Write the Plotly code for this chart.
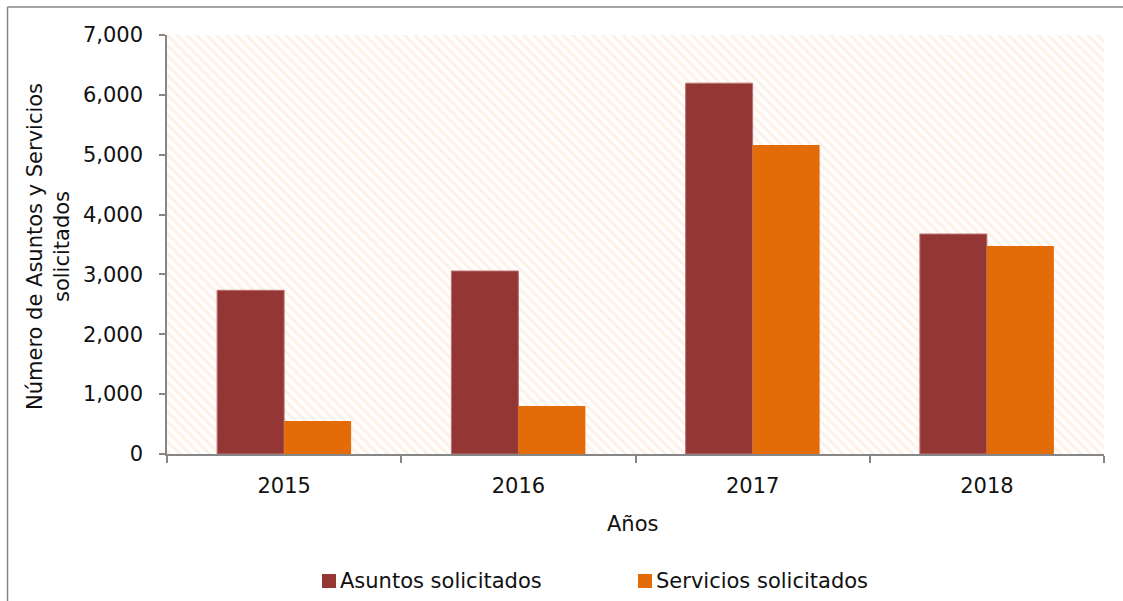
import plotly.graph_objects as go

years = ["2015", "2016", "2017", "2018"]
asuntos = [2735, 3057, 6195, 3675]
servicios = [550, 800, 5162, 3475]
series_names = ["Asuntos solicitados", "Servicios solicitados"]
series_colors = ["#943634", "#E36C09"]
y_max = 7000

W, H = 1123, 601
L, R, T, B = 167, 1104, 35, 454
pw, ph = R - L, B - T

def px_x(px):
    return (px - L) / pw

def px_y(py):
    return (B - py) / ph

pos = list(range(len(years)))
bw = 0.286

fig = go.Figure()
# hatched plot-area background
fig.add_trace(go.Bar(
    x=[-0.5], y=[y_max], width=[len(years)], offset=0,
    marker=dict(color="white", line=dict(width=0),
                pattern=dict(shape="\\", fgcolor="#FDE4CF", bgcolor="white",
                             size=7, solidity=0.45)),
    hoverinfo="skip", showlegend=False))
fig.add_trace(go.Bar(
    x=pos, y=asuntos, width=bw, offset=-bw, name=series_names[0],
    marker=dict(color=series_colors[0], line=dict(color="#B9716F", width=1)),
    showlegend=False))
fig.add_trace(go.Bar(
    x=pos, y=servicios, width=bw, offset=0, name=series_names[1],
    marker=dict(color=series_colors[1], line=dict(width=0)),
    showlegend=False))

font = dict(family="DejaVu Sans", size=21, color="#111111")

# custom legend (square + label)
legend_x = [322, 638]
legend_y = 581
shapes = []
annotations = []
for name, color, lx in zip(series_names, series_colors, legend_x):
    shapes.append(dict(type="rect", xref="paper", yref="paper",
                       x0=px_x(lx), x1=px_x(lx + 14),
                       y0=px_y(legend_y - 7), y1=px_y(legend_y + 7),
                       fillcolor=color, line=dict(width=0)))
    annotations.append(dict(text=name, x=px_x(lx + 16), y=px_y(legend_y),
                            xref="paper", yref="paper", showarrow=False,
                            font=font, xanchor="left", yanchor="middle"))

shapes += [
    dict(type="line", xref="paper", yref="paper",
         x0=px_x(7.5), x1=px_x(1130), y0=px_y(7), y1=px_y(7),
         line=dict(color="#868686", width=1.5)),
    dict(type="line", xref="paper", yref="paper",
         x0=px_x(7.5), x1=px_x(7.5), y0=px_y(7), y1=px_y(610),
         line=dict(color="#868686", width=1.5)),
]
annotations += [
    dict(text="Años", x=px_x(632), y=px_y(524), xref="paper", yref="paper",
         showarrow=False, font=font, xanchor="center", yanchor="middle"),
    dict(text="Número de Asuntos y Servicios<br>solicitados", textangle=-90,
         x=px_x(48), y=px_y(246), xref="paper", yref="paper",
         showarrow=False, font=font, xanchor="center", yanchor="middle"),
]

fig.update_layout(
    width=W, height=H, barmode="overlay",
    margin=dict(l=L, r=W - R, t=T, b=H - B),
    paper_bgcolor="white", plot_bgcolor="white",
    font=font, showlegend=False,
    xaxis=dict(range=[-0.5, len(years) - 0.5], tickvals=pos, ticktext=years,
               ticks="", showgrid=False, zeroline=False,
               showline=True, linecolor="#868686", linewidth=2,
               ticklabelstandoff=12,
               minor=dict(tickvals=[p - 0.5 for p in pos] + [len(years) - 0.5],
                          ticks="outside", ticklen=7, tickcolor="#868686",
                          tickwidth=1.5, showgrid=False)),
    yaxis=dict(range=[0, y_max], dtick=1000, tickformat=",",
               ticks="outside", ticklen=6, tickcolor="#868686", tickwidth=1.5,
               showgrid=False, zeroline=False,
               showline=True, linecolor="#868686", linewidth=1.5,
               ticklabelstandoff=12),
    annotations=annotations,
    shapes=shapes,
)

fig.write_html("out.html", config={"displayModeBar": False},
               post_script="document.body.style.margin='0';document.body.style.overflow='hidden';")
